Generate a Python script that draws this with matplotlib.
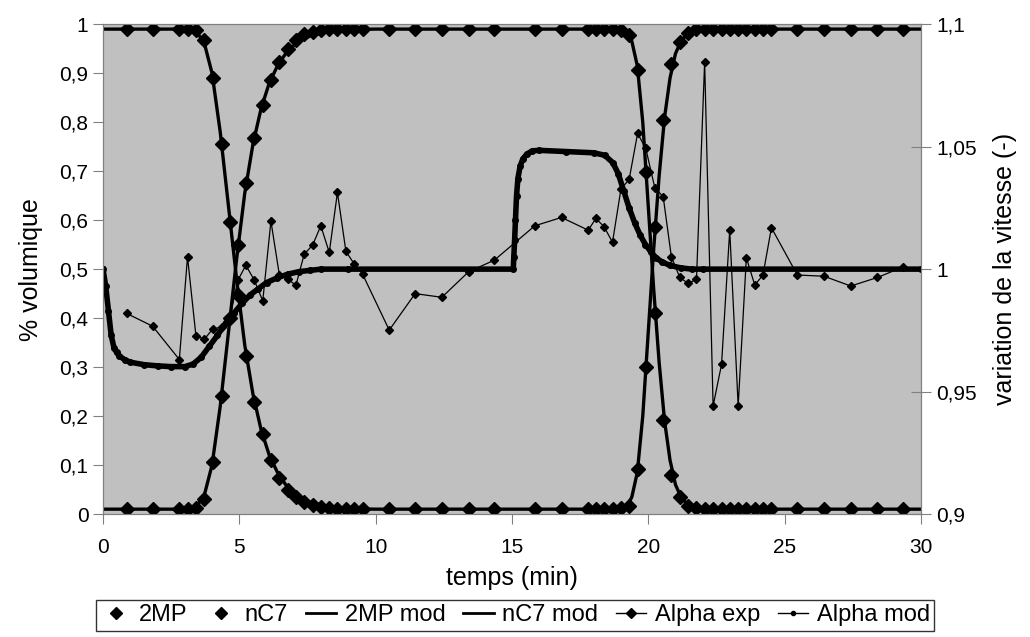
import numpy as np
import matplotlib.pyplot as plt
from matplotlib.lines import Line2D

plt.rcParams['font.family'] = ['Liberation Sans', 'DejaVu Sans']

# sampling times of the measurements (min)
t_exp = [0.87, 1.82, 2.80, 3.10, 3.41, 3.72, 4.02, 4.35, 4.66, 4.95,
         5.24, 5.55, 5.86, 6.16, 6.47, 6.77, 7.08, 7.38, 7.69, 7.99,
         8.30, 8.60, 8.91, 9.22, 9.52, 10.50, 11.45, 12.43, 13.41, 14.36,
         15.84, 16.82, 17.80, 18.08, 18.38, 18.69, 19.00, 19.30, 19.61, 19.91,
         20.24, 20.55, 20.85, 21.16, 21.46, 21.77, 22.07, 22.38, 22.69, 22.99,
         23.30, 23.60, 23.91, 24.21, 24.52, 25.47, 26.45, 27.43, 28.41, 29.35]

mp_exp = [0.99, 0.99, 0.99, 0.99, 0.988, 0.967, 0.89, 0.755, 0.597, 0.448,
          0.322, 0.229, 0.163, 0.11, 0.073, 0.05, 0.035, 0.025, 0.018, 0.014,
          0.012, 0.011, 0.01, 0.01, 0.01, 0.01, 0.01, 0.01, 0.01, 0.01,
          0.01, 0.01, 0.01, 0.01, 0.01, 0.01, 0.012, 0.016, 0.091, 0.30,
          0.586, 0.805, 0.918, 0.964, 0.983, 0.99, 0.99, 0.99, 0.99, 0.99,
          0.99, 0.99, 0.99, 0.99, 0.99, 0.99, 0.99, 0.99, 0.99, 0.99]

nc7_exp = [0.01, 0.01, 0.01, 0.01, 0.012, 0.03, 0.107, 0.241, 0.40, 0.55,
           0.675, 0.768, 0.836, 0.887, 0.923, 0.949, 0.967, 0.979, 0.985, 0.988,
           0.99, 0.99, 0.99, 0.99, 0.99, 0.99, 0.99, 0.99, 0.99, 0.99,
           0.99, 0.99, 0.99, 0.99, 0.99, 0.99, 0.988, 0.978, 0.907, 0.699,
           0.41, 0.193, 0.08, 0.034, 0.016, 0.012, 0.01, 0.01, 0.01, 0.01,
           0.01, 0.01, 0.01, 0.01, 0.01, 0.01, 0.01, 0.01, 0.01, 0.01]

alpha_exp = [0.9819, 0.9767, 0.9631, 1.005, 0.9727, 0.9714, 0.9755, 0.9764, 0.9808, 0.9955,
             1.0016, 0.9955, 0.9870, 1.0196, 0.9976, 0.9958, 0.9935, 1.0061, 1.0098, 1.0177,
             1.0068, 1.0313, 1.0073, 1.002, 0.998, 0.9751, 0.990, 0.9885, 0.9989, 1.0037,
             1.0177, 1.0211, 1.0159, 1.0207, 1.0173, 1.011, 1.0327, 1.0366, 1.0554, 1.0493,
             1.0333, 1.0295, 1.005, 0.9966, 0.9942, 0.9958, 1.0846, 0.9441, 0.9611, 1.0159,
             0.9441, 1.0046, 0.9935, 0.9976, 1.0169, 0.9976, 0.9971, 0.9931, 0.9966, 1.0009]

# model curves
t_mod = [0, 3.0, 3.4, 3.7, 4.0, 4.3, 4.6, 4.9, 5.2, 5.5, 5.8, 6.1, 6.4, 6.7, 7.0,
         7.3, 7.6, 8.0, 8.5, 9.0, 10.0, 19.0, 19.2, 19.4, 19.6, 19.8, 20.0, 20.2,
         20.4, 20.6, 20.8, 21.0, 21.2, 21.4, 21.6, 21.8, 22.2, 30]
mp_mod = [0.99, 0.99, 0.985, 0.965, 0.9, 0.78, 0.63, 0.48, 0.345, 0.245, 0.172, 0.12,
          0.085, 0.06, 0.043, 0.032, 0.024, 0.018, 0.013, 0.011, 0.01, 0.01, 0.013,
          0.035, 0.085, 0.2, 0.37, 0.54, 0.69, 0.81, 0.89, 0.94, 0.965, 0.978, 0.985,
          0.988, 0.99, 0.99]
nc7_mod = [0.01, 0.01, 0.015, 0.035, 0.1, 0.22, 0.37, 0.52, 0.655, 0.755, 0.828, 0.88,
           0.915, 0.94, 0.957, 0.968, 0.976, 0.982, 0.987, 0.989, 0.99, 0.99, 0.987,
           0.965, 0.915, 0.8, 0.63, 0.46, 0.31, 0.19, 0.11, 0.06, 0.035, 0.022, 0.015,
           0.012, 0.01, 0.01]

t_am = [0, 0.1, 0.2, 0.3, 0.4, 0.5, 0.6, 0.8, 1.0, 1.5, 2.0, 2.5, 3.0, 3.3, 3.6,
        3.9, 4.2, 4.5, 4.8, 5.1, 5.4, 5.7, 6.0, 6.4, 6.8, 7.2, 7.6, 8.0, 9.0, 15.05,
        15.07, 15.1, 15.13, 15.17, 15.22, 15.3, 15.4, 15.55, 15.75, 16.0, 17.0, 18.0,
        18.4, 18.7, 18.9, 19.1, 19.3, 19.5, 19.7, 19.9, 20.1, 20.3, 20.5, 20.8, 21.2,
        21.6, 22.0, 30.0]
alpha_mod = [1.0, 0.993, 0.983, 0.973, 0.968, 0.966, 0.9645, 0.963, 0.962, 0.961,
             0.9605, 0.9602, 0.9602, 0.9612, 0.964, 0.9685, 0.973, 0.978, 0.982, 0.986,
             0.9895, 0.992, 0.9945, 0.9965, 0.998, 0.999, 0.9995, 1.0, 1.0, 1.0,
             1.005, 1.012, 1.02, 1.03, 1.037, 1.042, 1.045, 1.047, 1.0483, 1.0485,
             1.048, 1.0475, 1.0465, 1.0435, 1.039, 1.032, 1.025, 1.019, 1.014, 1.01,
             1.007, 1.0045, 1.003, 1.0015, 1.0005, 1.0, 1.0, 1.0]


def comma(v, pos=None):
    return ('%g' % round(v, 3)).replace('.', ',')


fig = plt.figure(figsize=(10.3, 6.37), dpi=100)
ax = fig.add_axes([0.1, 0.193, 0.794, 0.769])
ax.set_facecolor('#C0C0C0')

ax.plot(t_mod, mp_mod, '-', color='k', lw=2.4, zorder=2)
ax.plot(t_mod, nc7_mod, '-', color='k', lw=2.4, zorder=2)
ax.plot(t_exp, mp_exp, 'D', color='k', ms=7.5, ls='none', zorder=3)
ax.plot(t_exp, nc7_exp, 'D', color='k', ms=7.5, ls='none', zorder=3)

ax2 = ax.twinx()
ax2.plot(t_am, alpha_mod, '-', color='k', lw=4, marker='o', ms=4)
ax2.plot(t_exp, alpha_exp, '-', color='k', lw=0.9, marker='D', ms=4.5)

ax.set_xlim(0, 30)
ax.set_ylim(0, 1)
ax2.set_ylim(0.9, 1.1)
ax.set_xticks(range(0, 31, 5))
ax.set_yticks(np.arange(0, 1.01, 0.1))
ax2.set_yticks([0.9, 0.95, 1.0, 1.05, 1.1])
ax.yaxis.set_major_formatter(plt.FuncFormatter(comma))
ax2.yaxis.set_major_formatter(plt.FuncFormatter(comma))

for a in (ax, ax2):
    for s in a.spines.values():
        s.set_color('#808080')
ax.tick_params(axis='both', colors='#808080', labelcolor='k', labelsize=15, length=7)
ax.tick_params(axis='x', pad=10)
ax2.tick_params(axis='y', direction='inout', colors='#808080', labelcolor='k',
                labelsize=15, length=14, pad=4)

ax.set_xlabel('temps (min)', fontsize=18, labelpad=7)
ax.set_ylabel('% volumique', fontsize=18, labelpad=12)
ax2.set_ylabel('variation de la vitesse (-)', fontsize=18, labelpad=12)

handles = [
    Line2D([], [], ls='none', marker='D', color='k', ms=6),
    Line2D([], [], ls='none', marker='D', color='k', ms=6),
    Line2D([], [], ls='-', color='k', lw=2),
    Line2D([], [], ls='-', color='k', lw=2),
    Line2D([], [], ls='-', color='k', lw=1, marker='D', ms=5),
    Line2D([], [], ls='-', color='k', lw=1, marker='o', ms=3),
]
labels = ['2MP', 'nC7', '2MP mod', 'nC7 mod', 'Alpha exp', 'Alpha mod']
leg = fig.legend(handles, labels, loc='center', bbox_to_anchor=(0.5, 0.034), ncol=6,
                 fontsize=17, frameon=True, fancybox=False, edgecolor='k',
                 handlelength=1.3, handletextpad=0.35, columnspacing=0.75,
                 borderpad=0.2, borderaxespad=0)
leg.get_frame().set_linewidth(1)

fig.savefig('out.png', dpi=100)
